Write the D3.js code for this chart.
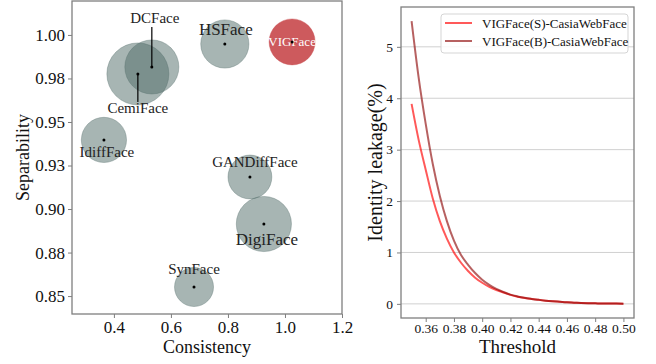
<!DOCTYPE html>
<html>
<head>
<meta charset="utf-8">
<script src="https://cdn.jsdelivr.net/npm/d3@7"></script>
<style>
  body { margin: 0; background: #fff; }
  svg { display: block; }
  svg text { font-family: "Liberation Serif", "Times New Roman", Times, serif !important; }
</style>
</head>
<body>
<svg id="chart" width="656" height="364"></svg>
<script>
// bubble chart data
var names = ["DCFace", "CemiFace", "HSFace", "VIGFace", "IdiffFace", "GANDiffFace", "DigiFace", "SynFace"];
var consistency = [0.533, 0.484, 0.789, 1.025, 0.365, 0.877, 0.926, 0.681];
var separability = [0.9816, 0.9776, 0.9948, 0.996, 0.9397, 0.9184, 0.8914, 0.8552];
var bubbleSize = [730, 960, 580, 530, 510, 480, 760, 380];
var sepTicks = [0.85, 0.875, 0.9, 0.925, 0.95, 0.975, 1.0];
var sepTickLabels = ["0.85", "0.88", "0.90", "0.93", "0.95", "0.98", "1.00"];
var conTicks = [0.4, 0.6, 0.8, 1.0, 1.2];

// leakage curves
var threshold = [0.350, 0.355, 0.360, 0.365, 0.370, 0.375, 0.380, 0.385, 0.390, 0.395, 0.400,
                 0.405, 0.410, 0.415, 0.420, 0.425, 0.430, 0.435, 0.440, 0.445, 0.450,
                 0.455, 0.460, 0.465, 0.470, 0.475, 0.480, 0.485, 0.490, 0.495, 0.500];
var leakS = [3.89, 3.19, 2.61, 2.05, 1.61, 1.27, 1.00, 0.80, 0.64, 0.51, 0.41,
             0.33, 0.27, 0.22, 0.175, 0.14, 0.115, 0.095, 0.078, 0.062, 0.05,
             0.04, 0.03, 0.024, 0.018, 0.014, 0.01, 0.008, 0.006, 0.005, 0.004];
var leakB = [5.50, 4.40, 3.50, 2.72, 2.10, 1.61, 1.23, 0.95, 0.76, 0.60, 0.47,
             0.37, 0.29, 0.23, 0.18, 0.145, 0.117, 0.096, 0.078, 0.062, 0.05,
             0.04, 0.03, 0.024, 0.018, 0.014, 0.01, 0.008, 0.006, 0.005, 0.004];
var seriesNames = ["VIGFace(S)-CasiaWebFace", "VIGFace(B)-CasiaWebFace"];
var threshTicks = [0.36, 0.38, 0.40, 0.42, 0.44, 0.46, 0.48, 0.50];
var leakTicks = [0, 1, 2, 3, 4, 5];

var svg = d3.select("#chart");
var frameColor = "#7f7f7f";

// ---------- left: bubble chart ----------
var left = {x0: 72, x1: 342, y0: 1, y1: 314};
var xScale = d3.scaleLinear().domain([0.253, 1.2]).range([left.x0, left.x1]);
var yScale = d3.scaleLinear().domain([0.8397, 1.0195]).range([left.y1, left.y0]);
var rScale = d3.scaleSqrt().domain([0, d3.max(bubbleSize)]).range([0, 31]);

var bubbles = names.map(function(n, i) {
    return {name: n, x: consistency[i], y: separability[i], s: bubbleSize[i]};
});

var gL = svg.append("g");
gL.selectAll("circle.bubble").data(bubbles).enter()
    .append("circle")
    .attr("class", "bubble")
    .attr("cx", function(d) { return xScale(d.x); })
    .attr("cy", function(d) { return yScale(d.y); })
    .attr("r", function(d) { return rScale(d.s); })
    .attr("fill", function(d) { return d.name == "VIGFace" ? "#c8484b" : "#4f6b68"; })
    .attr("fill-opacity", function(d) { return d.name == "VIGFace" ? 0.9 : 0.5; })
    .attr("stroke", function(d) { return d.name == "VIGFace" ? "#c8484b" : "#4f6b68"; })
    .attr("stroke-opacity", 0.35)
    .attr("stroke-width", 1);

// label offsets (px) from each bubble centre
var labelPos = {
    "DCFace":      {dx: 3, dy: -44, size: 15, line: -40},
    "CemiFace":    {dx: 0, dy: 39, size: 15, line: 28},
    "HSFace":      {dx: 1, dy: -9, size: 17},
    "VIGFace":     {dx: 0, dy: 4, size: 13, color: "#fff"},
    "IdiffFace":   {dx: 3, dy: 17, size: 15},
    "GANDiffFace": {dx: 5, dy: -10, size: 15},
    "DigiFace":    {dx: 3, dy: 21, size: 17},
    "SynFace":     {dx: 0, dy: -13, size: 15}
};

bubbles.forEach(function(d) {
    var p = labelPos[d.name];
    var cx = xScale(d.x), cy = yScale(d.y);
    if (p.line) {
        gL.append("line")
            .attr("x1", cx).attr("y1", cy)
            .attr("x2", cx).attr("y2", cy + p.line)
            .attr("stroke", "#000").attr("stroke-width", 1.2);
    }
    gL.append("text")
        .attr("x", cx + p.dx).attr("y", cy + p.dy)
        .attr("text-anchor", "middle")
        .attr("font-size", p.size)
        .attr("fill", p.color || "#222")
        .text(d.name);
});

gL.selectAll("circle.dot").data(bubbles).enter()
    .append("circle")
    .attr("class", "dot")
    .attr("cx", function(d) { return xScale(d.x); })
    .attr("cy", function(d) { return yScale(d.y); })
    .attr("r", 1.5)
    .attr("fill", "#000");

gL.append("rect")
    .attr("x", left.x0).attr("y", left.y0)
    .attr("width", left.x1 - left.x0).attr("height", left.y1 - left.y0)
    .attr("fill", "none").attr("stroke", frameColor).attr("stroke-width", 1.3);

var xAxisL = gL.append("g")
    .attr("transform", "translate(0," + left.y1 + ")")
    .call(d3.axisBottom(xScale).tickValues(conTicks).tickFormat(d3.format(".1f")).tickSize(4).tickPadding(3));
var yAxisL = gL.append("g")
    .attr("transform", "translate(" + left.x0 + ",0)")
    .call(d3.axisLeft(yScale).tickValues(sepTicks)
        .tickFormat(function(d, i) { return sepTickLabels[i]; }).tickSize(4).tickPadding(3));
[xAxisL, yAxisL].forEach(function(a) {
    a.select(".domain").remove();
    a.selectAll(".tick line").attr("stroke", frameColor);
    a.selectAll(".tick text").attr("font-size", 17).attr("fill", "#111");
});

gL.append("text")
    .attr("x", (left.x0 + left.x1) / 2).attr("y", 353)
    .attr("text-anchor", "middle").attr("font-size", 18).attr("fill", "#111")
    .text("Consistency");
gL.append("text")
    .attr("transform", "translate(29," + ((left.y0 + left.y1) / 2) + ") rotate(-90)")
    .attr("text-anchor", "middle").attr("font-size", 18).attr("fill", "#111")
    .text("Separability");

// ---------- right: leakage curves ----------
var right = {x0: 401, x1: 634, y0: 7, y1: 318};
var x2Scale = d3.scaleLinear().domain([0.3425, 0.5075]).range([right.x0, right.x1]);
var y2Scale = d3.scaleLinear().domain([-0.275, 5.775]).range([right.y1, right.y0]);

var gR = svg.append("g");
gR.selectAll("line.grid").data(leakTicks).enter()
    .append("line")
    .attr("class", "grid")
    .attr("x1", right.x0).attr("x2", right.x1)
    .attr("y1", function(d) { return y2Scale(d); })
    .attr("y2", function(d) { return y2Scale(d); })
    .attr("stroke", "#d0d0d0").attr("stroke-width", 1);

var series = [
    {name: seriesNames[0], values: leakS, color: "#ff0000", opacity: 0.65},
    {name: seriesNames[1], values: leakB, color: "#8b0000", opacity: 0.62}
];
var line = d3.line()
    .x(function(d, i) { return x2Scale(threshold[i]); })
    .y(function(d) { return y2Scale(d); })
    .curve(d3.curveMonotoneX);

gR.selectAll("path.curve").data(series).enter()
    .append("path")
    .attr("class", "curve")
    .attr("d", function(d) { return line(d.values); })
    .attr("fill", "none")
    .attr("stroke", function(d) { return d.color; })
    .attr("stroke-opacity", function(d) { return d.opacity; })
    .attr("stroke-width", 2);

gR.append("rect")
    .attr("x", right.x0).attr("y", right.y0)
    .attr("width", right.x1 - right.x0).attr("height", right.y1 - right.y0)
    .attr("fill", "none").attr("stroke", frameColor).attr("stroke-width", 1.3);

var xAxisR = gR.append("g")
    .attr("transform", "translate(0," + right.y1 + ")")
    .call(d3.axisBottom(x2Scale).tickValues(threshTicks).tickFormat(d3.format(".2f")).tickSize(4).tickPadding(1.5));
var yAxisR = gR.append("g")
    .attr("transform", "translate(" + right.x0 + ",0)")
    .call(d3.axisLeft(y2Scale).tickValues(leakTicks).tickFormat(d3.format("d")).tickSize(4).tickPadding(4));
[xAxisR, yAxisR].forEach(function(a) {
    a.select(".domain").remove();
    a.selectAll(".tick line").attr("stroke", frameColor);
    a.selectAll(".tick text").attr("font-size", 13.5).attr("fill", "#111");
});

gR.append("text")
    .attr("x", (right.x0 + right.x1) / 2).attr("y", 353)
    .attr("text-anchor", "middle").attr("font-size", 19).attr("fill", "#111")
    .text("Threshold");
gR.append("text")
    .attr("transform", "translate(382," + ((right.y0 + right.y1) / 2) + ") rotate(-90)")
    .attr("text-anchor", "middle").attr("font-size", 20).attr("fill", "#111")
    .text("Identity leakage(%)");

// legend
var legend = gR.append("g").attr("transform", "translate(441,14)");
legend.append("rect")
    .attr("width", 187).attr("height", 39).attr("rx", 3)
    .attr("fill", "#fff").attr("fill-opacity", 0.85)
    .attr("stroke", "#d5d5d5");
series.forEach(function(s, i) {
    var yy = 9 + i * 18;
    legend.append("line")
        .attr("x1", 4).attr("x2", 31).attr("y1", yy).attr("y2", yy)
        .attr("stroke", s.color).attr("stroke-opacity", s.opacity).attr("stroke-width", 2);
    legend.append("text")
        .attr("x", 41).attr("y", yy + 4.5)
        .attr("font-size", 13).attr("fill", "#111")
        .text(s.name);
});
</script>
</body>
</html>
